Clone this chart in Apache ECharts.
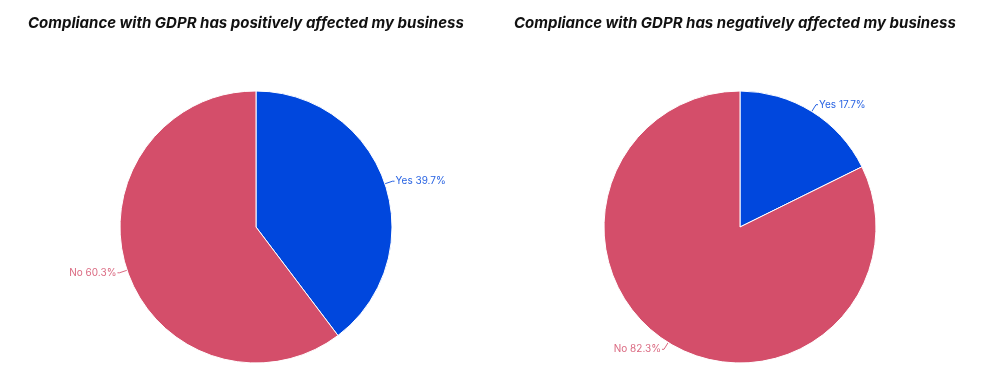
<!DOCTYPE html>
<html><head><meta charset="utf-8">
<script src="https://cdn.jsdelivr.net/npm/echarts@6/dist/echarts.min.js"></script>
<style>html,body{margin:0;padding:0;background:#fff}#c{width:1000px;height:381px}</style>
</head><body><div id="c"></div>
<script>
const titles = ['Compliance with GDPR has positively affected my business', 'Compliance with GDPR has negatively affected my business'];
const categories = ['Yes', 'No'];
const positiveValues = [39.7, 60.3];
const negativeValues = [17.7, 82.3];
const colors = ['#0047DD', '#D44E6A'];

const chart = echarts.init(document.getElementById('c'));
function mk(vals, cx) {
  return {
    type: 'pie', center: [cx, 227], radius: 136, startAngle: 90, clockwise: true,
    animation: false,
    data: categories.map((c, i) => ({ name: c, value: vals[i], itemStyle: { color: colors[i] }, label: { color: colors[i] }, labelLine: { lineStyle: { color: colors[i] } } })),
    itemStyle: { borderColor: '#fff', borderWidth: 1 },
    label: { formatter: p => p.name + ' ' + p.value.toFixed(1) + '%', fontSize: 10, fontFamily: 'Inter', opacity: 0.85, distanceToLabelLine: 1 },
    labelLine: { length: 8, length2: 2, lineStyle: { width: 1, opacity: 0.85 } }
  };
}
const ts = { fontFamily: 'Inter', fontStyle: 'italic', fontWeight: 'bold', fontSize: 15, color: '#111' };
chart.setOption({
  animation: false,
  title: [
    { text: titles[0], left: 23, top: 11, textStyle: ts },
    { text: titles[1], left: 509, top: 11, textStyle: ts }
  ],
  series: [mk(positiveValues, 256), mk(negativeValues, 740)]
});
</script></body></html>
